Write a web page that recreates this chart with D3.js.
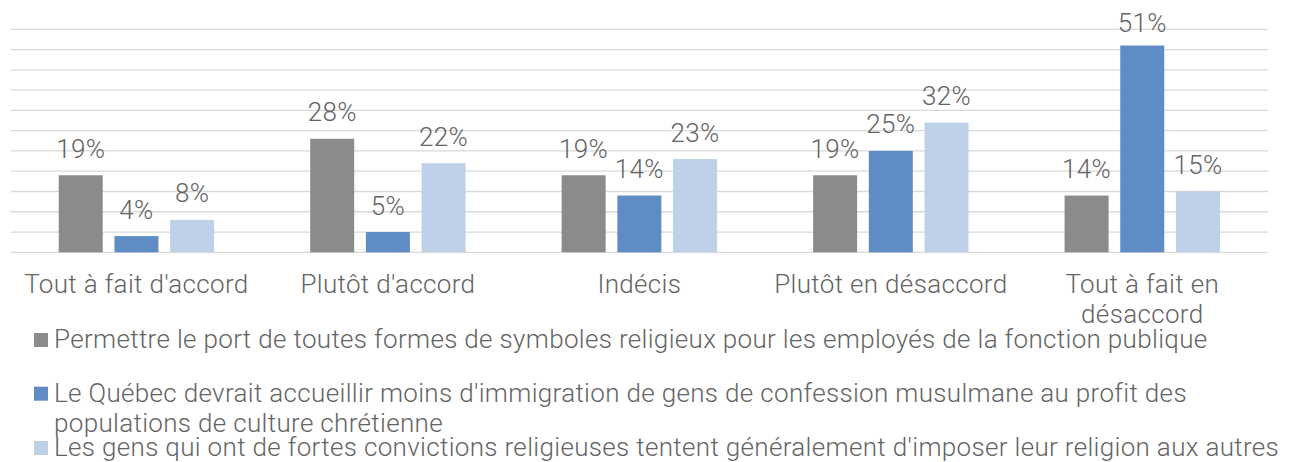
<!DOCTYPE html>
<html>
<head>
<meta charset="utf-8">
<script src="https://cdn.jsdelivr.net/npm/d3@7"></script>
<style>
  body { margin: 0; background: #fff; }
  svg text { font-family: Roboto, "Open Sans", sans-serif; font-weight: 300; fill: #646464; letter-spacing: 0.33px; }
</style>
</head>
<body>
<div id="chart"></div>
<script>
// categories on the x axis (last one wraps on two lines)
const categories = [
  ["Tout à fait d'accord"],
  ["Plutôt d'accord"],
  ["Indécis"],
  ["Plutôt en désaccord"],
  ["Tout à fait en", "désaccord"]
];

// one array per series, in percent
const symbolesValues = [19, 28, 19, 19, 14];
const immigrationValues = [4, 5, 14, 25, 51];
const convictionsValues = [8, 22, 23, 32, 15];

const seriesNames = [
  ["Permettre le port de toutes formes de symboles religieux pour les employés de la fonction publique"],
  ["Le Québec devrait accueillir moins d'immigration de gens de confession musulmane au profit des",
   "populations de culture chrétienne"],
  ["Les gens qui ont de fortes convictions religieuses tentent généralement d'imposer leur religion aux autres"]
];

const gridTicks = [0, 5, 10, 15, 20, 25, 30, 35, 40, 45, 50, 55];

const colors = ["#8b8b8b", "#5f8cc4", "#bfd1e8"];

const width = 1299, height = 462;
// plot box
const plot = { left: 10.7, right: 1268, top: 29.3, bottom: 252.3 };

const series = [symbolesValues, immigrationValues, convictionsValues];

const svg = d3.select("#chart").append("svg")
  .attr("width", width)
  .attr("height", height);

const x0 = d3.scaleBand()
  .domain(d3.range(categories.length))
  .range([plot.left, plot.right]);

const x1 = d3.scaleBand()
  .domain(d3.range(series.length))
  .range([x0.bandwidth() * 0.191, x0.bandwidth() * 0.809])
  .paddingInner(0.21);

const y = d3.scaleLinear()
  .domain([0, 55])
  .range([plot.bottom, plot.top]);

// gridlines
svg.append("g").attr("class", "grid")
  .selectAll("line")
  .data(gridTicks)
  .join("line")
  .attr("x1", plot.left)
  .attr("x2", plot.right)
  .attr("y1", d => y(d))
  .attr("y2", d => y(d))
  .attr("stroke", "#d9d9d9")
  .attr("stroke-width", 1.3);

// bars
const groups = svg.append("g").selectAll("g")
  .data(categories)
  .join("g")
  .attr("transform", (d, i) => "translate(" + x0(i) + ",0)");

groups.selectAll("rect")
  .data((d, i) => series.map((s, k) => ({ k: k, v: s[i] })))
  .join("rect")
  .attr("x", d => x1(d.k))
  .attr("width", x1.bandwidth())
  .attr("y", d => y(d.v))
  .attr("height", d => y(0) - y(d.v))
  .attr("fill", d => colors[d.k]);

// data labels, kept inside the top of the chart
groups.selectAll("text.val")
  .data((d, i) => series.map((s, k) => ({ k: k, v: s[i] })))
  .join("text")
  .attr("class", "val")
  .attr("x", d => x1(d.k) + x1.bandwidth() / 2)
  .attr("y", d => Math.max(y(d.v) - 17.5, 32.3))
  .attr("text-anchor", "middle")
  .attr("font-size", 26)
  .text(d => d.v + "%");

// category labels
const catText = svg.append("g").selectAll("text")
  .data(categories)
  .join("text")
  .attr("x", (d, i) => x0(i) + x0.bandwidth() / 2)
  .attr("y", 292.7)
  .attr("text-anchor", "middle")
  .attr("font-size", 26);

catText.selectAll("tspan")
  .data(d => d)
  .join("tspan")
  .attr("x", function() { return this.parentNode.getAttribute("x"); })
  .attr("dy", (d, i) => i === 0 ? 0 : 30)
  .text(d => d);

// legend
const legendY = [348, 401.7, 456];
const legend = svg.append("g").selectAll("g")
  .data(seriesNames)
  .join("g")
  .attr("transform", (d, i) => "translate(0," + legendY[i] + ")");

legend.append("rect")
  .attr("x", 34)
  .attr("y", -15)
  .attr("width", 14)
  .attr("height", 14)
  .attr("fill", (d, i) => colors[i]);

legend.append("text")
  .attr("x", 54)
  .attr("y", 0)
  .attr("font-size", 26)
  .selectAll("tspan")
  .data(d => d)
  .join("tspan")
  .attr("x", 54)
  .attr("dy", (d, i) => i === 0 ? 0 : 30)
  .text(d => d);
</script>
</body>
</html>
